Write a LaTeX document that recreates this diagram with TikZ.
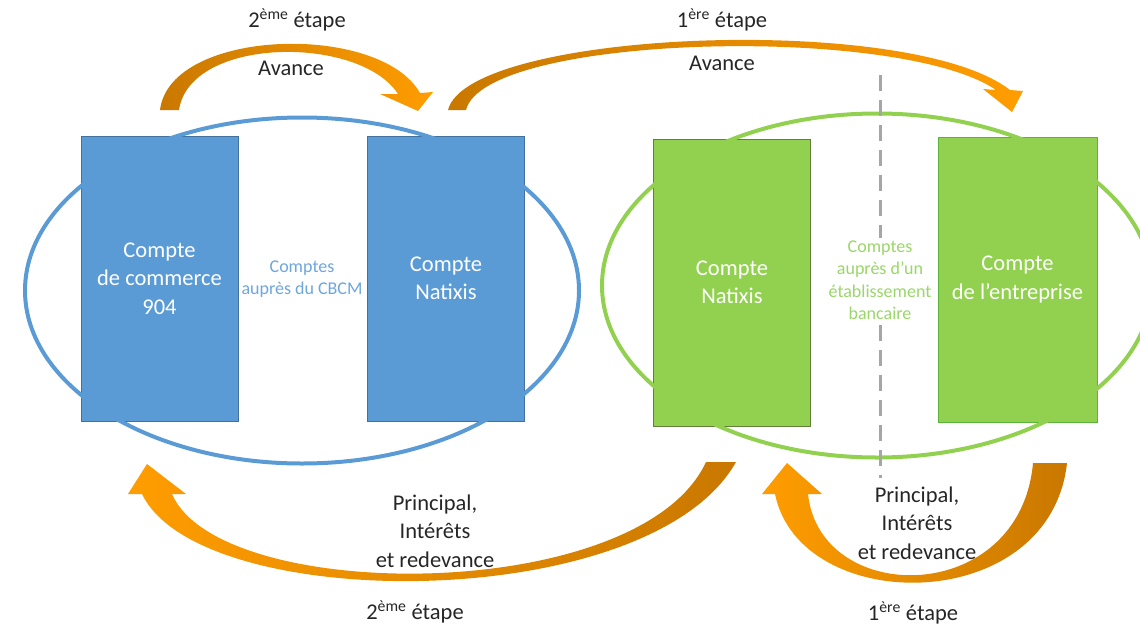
\documentclass[tikz,border=0pt]{standalone}
\usepackage{fontspec}
\setmainfont{Carlito}
\definecolor{boxblue}{HTML}{5B9BD5}
\definecolor{boxblueedge}{HTML}{41719C}
\definecolor{boxgreen}{HTML}{92D050}
\definecolor{greenedgeA}{HTML}{5F7F3A}
\definecolor{greenedgeB}{HTML}{5BB43A}
\definecolor{orangedark}{HTML}{C97800}
\definecolor{orangelight}{HTML}{FF9D00}
\definecolor{labelgray}{HTML}{262626}
\definecolor{notegreen}{HTML}{9BD66A}
\definecolor{noteblue}{HTML}{6EA6DC}
\definecolor{dashgray}{HTML}{A6A6A6}

\begin{document}
\begin{tikzpicture}[x=1pt,y=-1pt,
  acct/.style={draw, line width=1pt, minimum width=157pt, minimum height=285pt,
    inner sep=0pt, align=center, text=white,
    font=\fontsize{22.5}{28.5}\selectfont},
  ring/.style={line width=4pt},
  lbl/.style={text=labelgray, align=center, inner sep=0pt,
    font=\fontsize{22.5}{28.5}\selectfont},
  note/.style={align=center, inner sep=2pt,
    font=\fontsize{18}{22.5}\selectfont},
  dashline/.style={draw=dashgray, line width=3pt, dash pattern=on 16pt off 9pt},
  flowA/.style={left color=orangedark, right color=orangelight},
  flowB/.style={left color=orangelight, right color=orangedark}
]
\useasboundingbox (0,0) rectangle (1140,629);

% accounts held at the CBCM
\node[acct, fill=boxblue, draw=boxblueedge] (comm) at (159.5,278.5) {Compte\\de commerce\\904};
\node[acct, fill=boxblue, draw=boxblueedge] (natA) at (446,278.5) {Compte\\Natixis};
% accounts held at the bank
\node[acct, fill=boxgreen, draw=greenedgeA, minimum height=287pt] (natB) at (732,282.5) {Compte\\Natixis};
\node[acct, fill=boxgreen, draw=greenedgeB, minimum width=159pt] (firm) at (1017.5,279.5) {Compte\\de l’entreprise};

% grouping rings
\draw[ring, boxblue] (302,290.5) ellipse [x radius=277, y radius=173];
\draw[ring, boxgreen] (877,285.5) ellipse [x radius=275, y radius=172];

% separator inside the bank ring
\coordinate (dtop) at (880,75);
\coordinate (dbot) at (880,478);
\draw[dashline] (dtop) -- (dbot);

\node[note, text=noteblue] (cbcm) at (302,279) {Comptes\\auprès du CBCM};
\node[note, text=notegreen, fill=white] (bank) at (880,280) {Comptes\\auprès d’un\\établissement\\bancaire};

% advance, step 2
\shade[flowA]
  (160,110) .. controls (170,28) and (380,22) .. (420,93)
  -- (433,92) -- (418,111) -- (380,94) -- (398,94)
  .. controls (360,35) and (190,36) .. (179,110) -- cycle;
% advance, step 1
\shade[flowA]
  (448,110) .. controls (468,30) and (910,12) .. (1010,90)
  -- (1023,91) -- (1012,112) -- (983,89) -- (996,90)
  .. controls (900,24) and (485,34) .. (466,110) -- cycle;
% repayment, step 2
\shade[flowB]
  (142,494) .. controls (200,615) and (650,615) .. (736,462)
  -- (706,462)
  .. controls (640,605) and (220,605) .. (172,494)
  -- (186,494) -- (147,464) -- (128,494) -- cycle;
% repayment, step 1
\shade[flowB]
  (775,494) .. controls (800,617) and (1050,617) .. (1067,463)
  -- (1033,463)
  .. controls (1020,607) and (820,607) .. (808,494)
  -- (822,494) -- (787,463) -- (762,494) -- cycle;

% captions
\node[lbl] (stepA) at (297,20) {2\textsuperscript{ème} étape};
\node[lbl] (avA) at (291,68) {Avance};
\node[lbl] (stepB) at (722,20) {1\textsuperscript{ère} étape};
\node[lbl] (avB) at (722,63) {Avance};
\node[lbl] (repC) at (435,531) {Principal,\\Intérêts\\et redevance};
\node[lbl] (stepC) at (415,612) {2\textsuperscript{ème} étape};
\node[lbl] (repD) at (917,523) {Principal,\\Intérêts\\et redevance};
\node[lbl] (stepD) at (913,613) {1\textsuperscript{ère} étape};
\end{tikzpicture}
\end{document}
